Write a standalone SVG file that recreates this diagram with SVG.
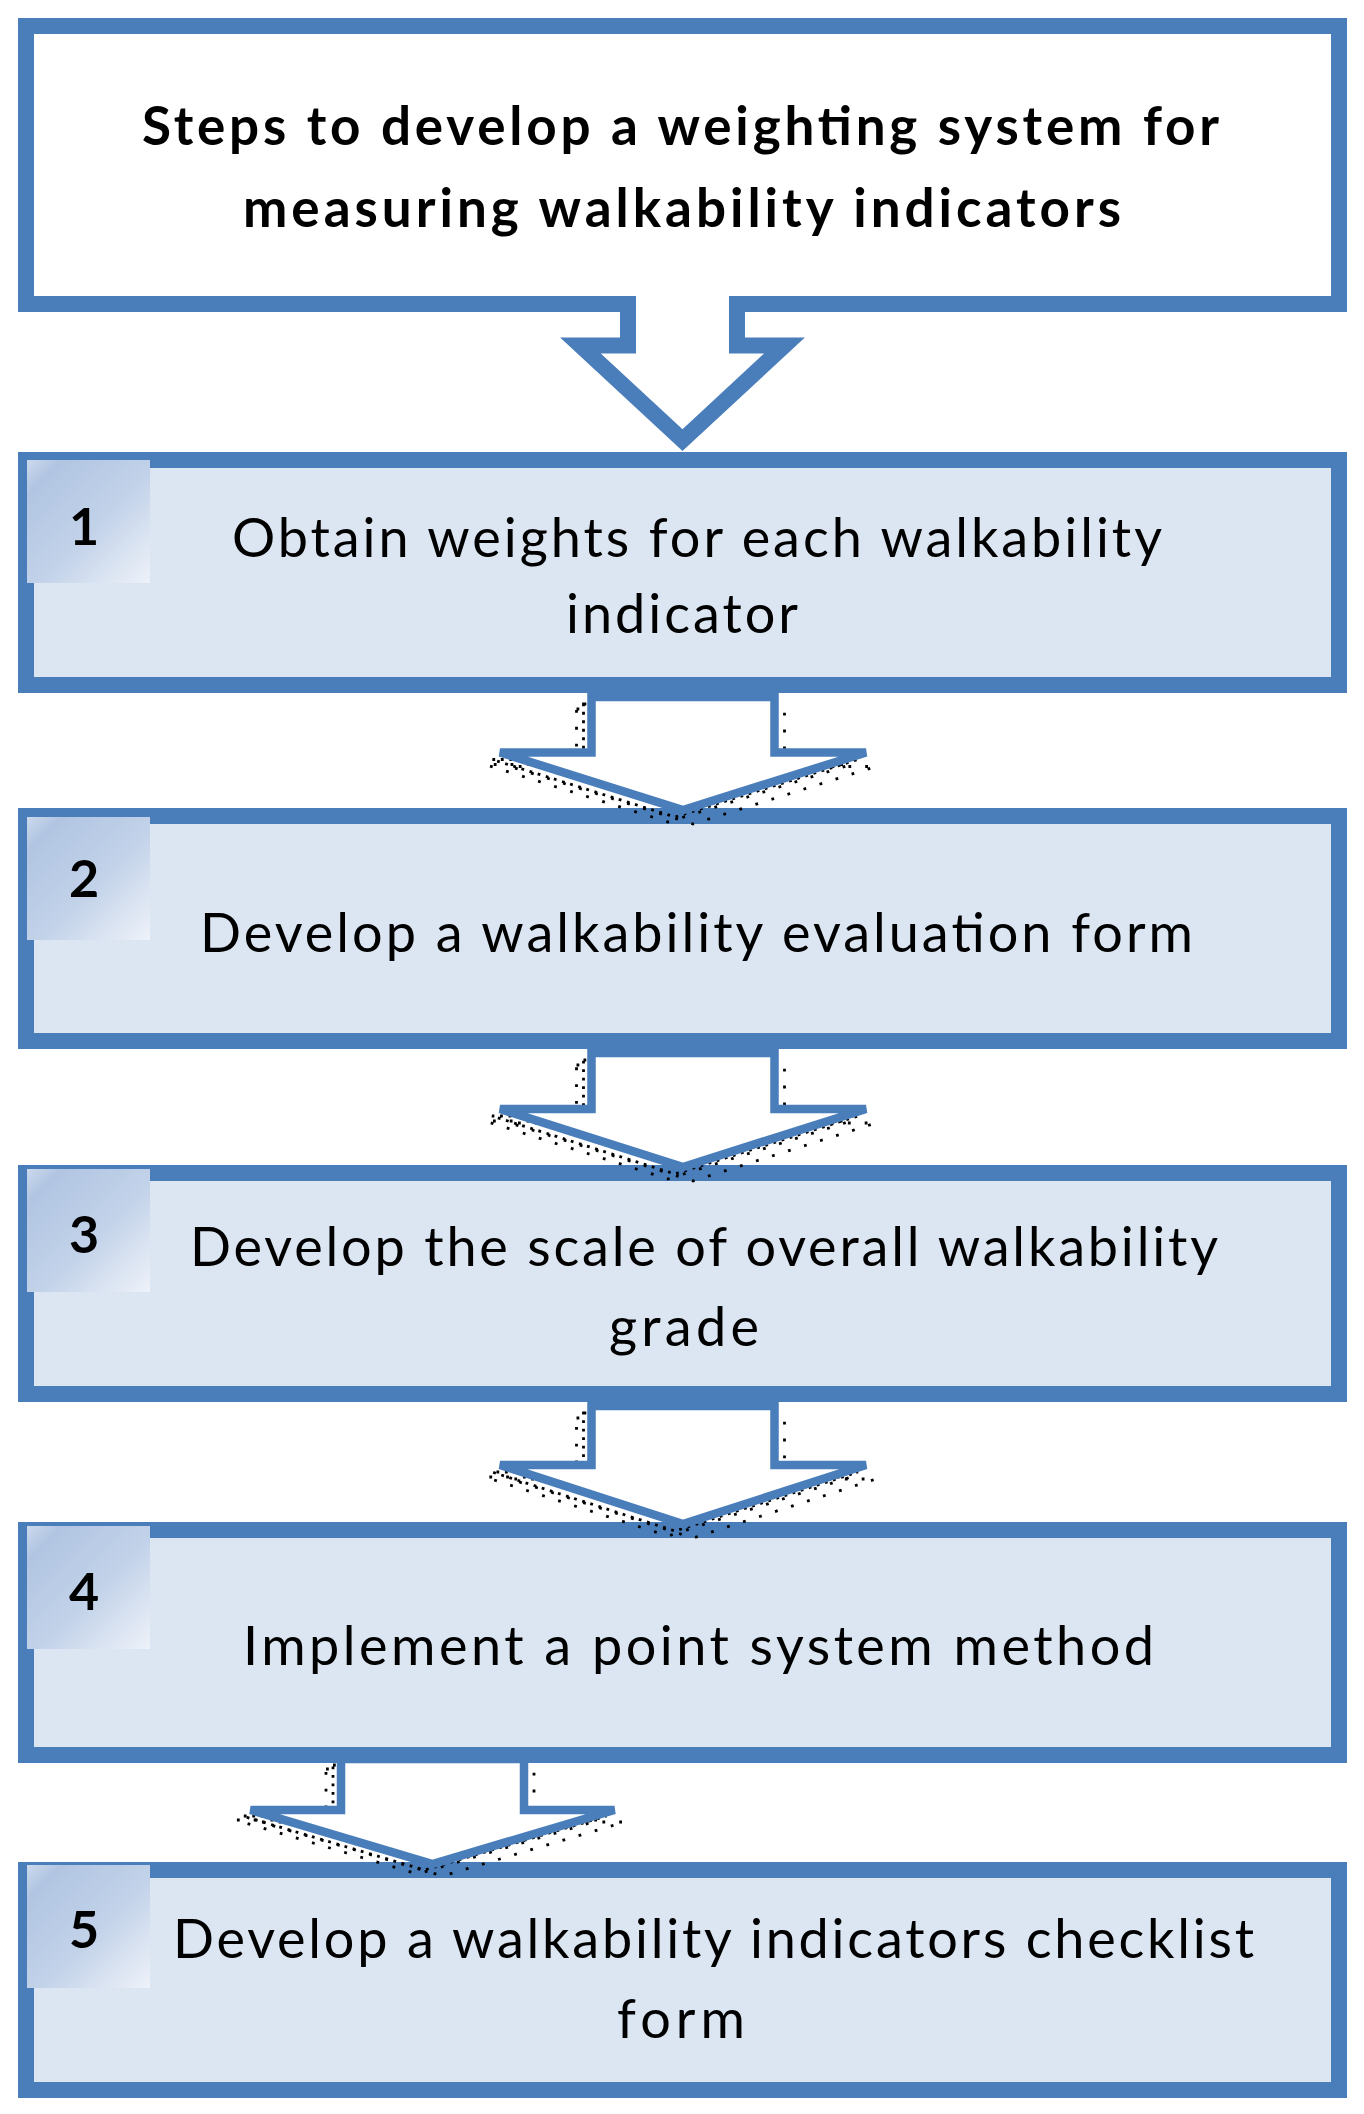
<svg xmlns="http://www.w3.org/2000/svg" width="1364" height="2114" viewBox="0 0 1364 2114">
<defs>
<linearGradient id="badgeGrad" x1="0" y1="0" x2="1" y2="1">
<stop offset="0" stop-color="#ccd9ec"/>
<stop offset="0.14" stop-color="#b1c5e2"/>
<stop offset="0.55" stop-color="#c2d2e9"/>
<stop offset="1" stop-color="#eef2f9"/>
</linearGradient>
<path id="a1" d="M591.5,697 H774.5 V752.5 H866 L683,810 L500,752.5 H591.5 Z"/>
<path id="a2" d="M591.5,1053 H774.5 V1109 H866 L683,1167 L500,1109 H591.5 Z"/>
<path id="a3" d="M591.5,1406 H774.5 V1465 H866 L683,1524 L500,1465 H591.5 Z"/>
<path id="a4" d="M341,1759 H524 V1810 H614.5 L432.5,1864 L250.5,1810 H341 Z"/>
</defs>
<style>
.box{fill:#dce6f2;stroke:#4a7ebb;stroke-width:16}
.callout{fill:#ffffff;stroke:#4a7ebb;stroke-width:16;stroke-linejoin:miter}
.badge{fill:url(#badgeGrad)}
.num{font-family:Lato,"Liberation Sans",sans-serif;font-size:52px;font-weight:700;fill:#000;text-anchor:middle}
.txt{font-family:Lato,"Liberation Sans",sans-serif;font-size:54px;fill:#000}
.title{font-family:Lato,"Liberation Sans",sans-serif;font-size:53px;font-weight:700;fill:#000}
.arrow{fill:#ffffff;stroke:#4a7ebb;stroke-width:8.5;stroke-linejoin:miter}
.sh1{fill:none;stroke:#000;stroke-width:2.8;stroke-dasharray:2.8 5.7}
.sh2{fill:none;stroke:#000;stroke-width:2.8;stroke-dasharray:2.8 14}
</style>
<rect width="1364" height="2114" fill="#ffffff"/>

<g id="node-title">
<path class="callout" d="M26,26 H1339 V304 H737 V345.5 H784.5 L682.5,440 L580.5,345.5 H628 V304 H26 Z"/>
<text class="title" x="142" y="145" textLength="1077" lengthAdjust="spacing">Steps to develop a weighting system for</text>
<text class="title" x="243" y="227" textLength="878" lengthAdjust="spacing">measuring walkability indicators</text>
</g>

<g id="node-1">
<rect class="box" x="26" y="460" width="1313" height="225"/>
<rect class="badge" x="27" y="460" width="123" height="123"/>
<text class="num" x="84" y="545">1</text>
<text class="txt" x="232" y="557" textLength="930" lengthAdjust="spacing">Obtain weights for each walkability</text>
<text class="txt" x="566" y="633" textLength="232" lengthAdjust="spacing">indicator</text>
</g>

<g id="node-2">
<rect class="box" x="26" y="816" width="1313" height="225"/>
<rect class="badge" x="27" y="817" width="123" height="123"/>
<text class="num" x="84" y="897">2</text>
<text class="txt" x="200" y="952" textLength="993" lengthAdjust="spacing">Develop a walkability evaluation form</text>
</g>

<g id="node-3">
<rect class="box" x="26" y="1173" width="1313" height="221"/>
<rect class="badge" x="27" y="1169" width="123" height="123"/>
<text class="num" x="84" y="1253">3</text>
<text class="txt" x="190" y="1266" textLength="1028" lengthAdjust="spacing">Develop the scale of overall walkability</text>
<text class="txt" x="609" y="1346" textLength="150" lengthAdjust="spacing">grade</text>
</g>

<g id="node-4">
<rect class="box" x="26" y="1530" width="1313" height="225"/>
<rect class="badge" x="27" y="1526" width="123" height="123"/>
<text class="num" x="84" y="1610">4</text>
<text class="txt" x="243" y="1665" textLength="911" lengthAdjust="spacing">Implement a point system method</text>
</g>

<g id="node-5">
<rect class="box" x="26" y="1870" width="1313" height="220"/>
<rect class="badge" x="27" y="1865" width="123" height="123"/>
<text class="num" x="84" y="1948">5</text>
<text class="txt" x="173" y="1958" textLength="1081" lengthAdjust="spacing">Develop a walkability indicators checklist</text>
<text class="txt" x="617" y="2038" textLength="128" lengthAdjust="spacing">form</text>
</g>

<g id="connectors">
<use href="#a1" class="sh2" transform="translate(-15,12)"/>
<use href="#a1" class="sh2" transform="translate(10,14)"/>
<use href="#a1" class="sh1" transform="translate(-8,7)"/>
<use href="#a1" class="arrow"/>
<use href="#a2" class="sh2" transform="translate(-15,12)"/>
<use href="#a2" class="sh2" transform="translate(10,14)"/>
<use href="#a2" class="sh1" transform="translate(-8,7)"/>
<use href="#a2" class="arrow"/>
<use href="#a3" class="sh2" transform="translate(-15,12)"/>
<use href="#a3" class="sh2" transform="translate(10,14)"/>
<use href="#a3" class="sh1" transform="translate(-8,7)"/>
<use href="#a3" class="arrow"/>
<use href="#a4" class="sh2" transform="translate(-15,10)"/>
<use href="#a4" class="sh2" transform="translate(10,12)"/>
<use href="#a4" class="sh1" transform="translate(-8,6)"/>
<use href="#a4" class="arrow"/>
</g>
</svg>
